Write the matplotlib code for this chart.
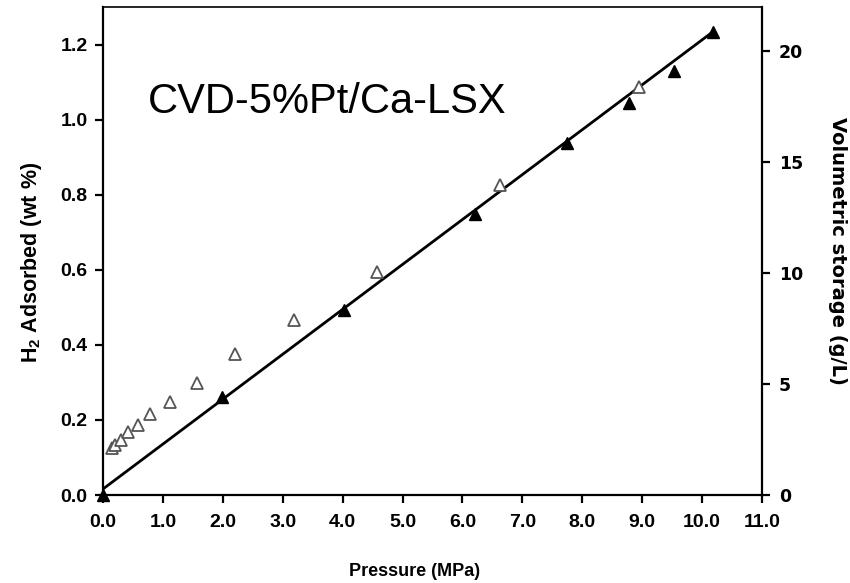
import matplotlib
matplotlib.use("Agg")
import matplotlib.pyplot as plt

# H2 uptake (pressure in MPa, uptake in wt %)
filled_p = [0.0, 1.99, 4.02, 6.21, 7.75, 8.78, 9.53, 10.18]
filled_wt = [0.0, 0.261, 0.493, 0.749, 0.938, 1.045, 1.130, 1.234]

open_p = [0.15, 0.20, 0.30, 0.42, 0.58, 0.78, 1.12, 1.57, 2.20, 3.19, 4.57, 6.63, 8.95]
open_wt = [0.125, 0.133, 0.146, 0.168, 0.186, 0.216, 0.248, 0.298, 0.376, 0.466, 0.594, 0.826, 1.087]

# straight fit line, end points
fit_p = [0.0, 10.18]
fit_wt = [0.016, 1.234]

x_ticks = [0.0, 1.0, 2.0, 3.0, 4.0, 5.0, 6.0, 7.0, 8.0, 9.0, 10.0, 11.0]
y_ticks = [0.0, 0.2, 0.4, 0.6, 0.8, 1.0, 1.2]
vol_ticks = [0, 5, 10, 15, 20]

ARIAL = "Liberation Sans"
VERD = "DejaVu Sans"

fig = plt.figure(figsize=(8.5, 5.83), dpi=100)
ax = fig.add_axes([103 / 850, 1 - 495 / 583, 659 / 850, 488 / 583])

ax.plot(fit_p, fit_wt, color="black", lw=2.0, zorder=2)
ax.plot(open_p, open_wt, ls="none", marker="^", ms=8.5, mfc="white",
        mec="#555555", mew=1.3, zorder=3)
ax.plot(filled_p, filled_wt, ls="none", marker="^", ms=8.5, mfc="black",
        mec="black", zorder=4, clip_on=False)

ax.set_xlim(0, 11)
ax.set_ylim(0, 1.3)
ax.set_xticks(x_ticks)
ax.set_xticklabels([f"{t:.1f}" for t in x_ticks])
ax.set_yticks(y_ticks)
ax.set_yticklabels([f"{t:.1f}" for t in y_ticks])

for s in ["left", "bottom", "right"]:
    ax.spines[s].set_linewidth(1.6)
ax.spines["top"].set_linewidth(1.2)
ax.tick_params(direction="out", length=6, width=1.6, pad=5)
ax.tick_params(axis="x", pad=8)
for lab in ax.get_xticklabels() + ax.get_yticklabels():
    lab.set_fontfamily(ARIAL)
    lab.set_fontweight("bold")
    lab.set_fontsize(14)

ax.set_xlabel("Pressure (MPa)", fontfamily=ARIAL, fontweight="bold", fontsize=13)
ax.xaxis.set_label_coords((415 - 103) / 659, -(571 - 495) / 488)
ax.xaxis.label.set_va("center")
ax.set_ylabel(r"H$_\mathregular{2}$ Adsorbed (wt %)", fontfamily=ARIAL,
              fontweight="bold", fontsize=15.5)
ax.yaxis.set_label_coords((32 - 103) / 659, (495 - 262) / 488)
ax.yaxis.label.set_va("center")

# volumetric scale on the right
ax2 = ax.twinx()
ax2.set_ylim(0, 22)
ax2.set_yticks(vol_ticks)
ax2.tick_params(direction="out", length=6, width=1.6, pad=6)
for lab in ax2.get_yticklabels():
    lab.set_fontfamily(VERD)
    lab.set_fontweight("bold")
    lab.set_fontsize(12.5)
for s in ax2.spines.values():
    s.set_visible(False)
ax2.set_ylabel("Volumetric storage (g/L)", fontfamily=VERD, fontweight="bold",
               fontsize=14, rotation=270)
ax2.yaxis.set_label_coords((837 - 103) / 659, (495 - 251) / 488)
ax2.yaxis.label.set_va("center")

ax.text((148 - 103) / 659, (495 - 113) / 488, "CVD-5%Pt/Ca-LSX",
        transform=ax.transAxes, fontfamily=ARIAL, fontsize=30, va="baseline")

fig.savefig("out.png", dpi=100)
